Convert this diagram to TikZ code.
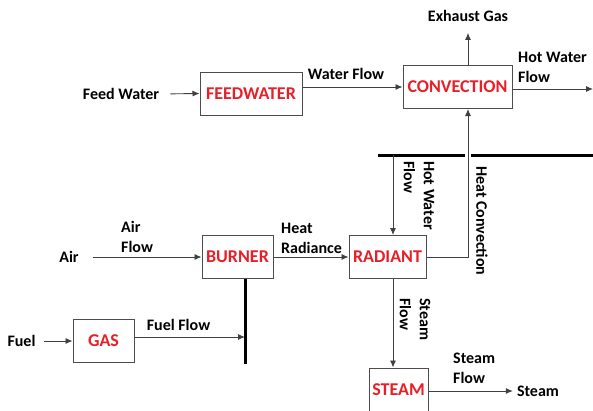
\documentclass[tikz,border=0pt]{standalone}
\usepackage{fontspec}
\setmainfont{Carlito}
\usetikzlibrary{positioning,arrows.meta}
\definecolor{unitred}{RGB}{232,30,40}
\tikzset{
  flowarrow/.style={-{Latex[length=7pt,width=6pt]}, line width=0.9pt, black!75},
  busline/.style={line width=3pt},
  unitbox/.style={draw=black!70, line width=1pt, fill=white, minimum height=43pt, inner sep=1pt, text=unitred, font=\fontsize{18}{21}\selectfont\bfseries},
  flowlabel/.style={inner sep=0pt, align=left, font=\fontsize{16}{20}\selectfont\bfseries}
}
\begin{document}
\begin{tikzpicture}[x=1pt, y=-1pt, >=Latex]
  \useasboundingbox (0,0) rectangle (593,410);
  % process units
  \node[unitbox, minimum width=102pt] (feedwater) at (251,93.5) {FEEDWATER};
  \node[unitbox, minimum width=109pt] (convection) at (457.5,87) {CONVECTION};
  \node[unitbox, minimum width=71pt] (burner) at (237.5,257) {BURNER};
  \node[unitbox, minimum width=77pt] (radiant) at (387.5,257) {RADIANT};
  \node[unitbox, minimum width=61pt] (gas) at (103.5,341) {GAS};
  \node[unitbox, minimum width=59pt] (steam) at (398.5,389.5) {STEAM};
  % inputs and outputs
  \node[flowlabel] (feedin) at (121,94) {Feed Water};
  \node[flowlabel] (exhaust) at (468,16) {Exhaust Gas};
  \node[flowlabel] (air) at (69,257) {Air};
  \node[flowlabel] (fuel) at (21.5,341) {Fuel};
  \node[flowlabel] (steamout) at (538,391) {Steam};
  \coordinate (hwout) at (593,89);
  % flow labels
  \node[flowlabel] (waterlbl) at (346,74) {Water Flow};
  \node[flowlabel, anchor=west] (hwlbl) at (518,67) {Hot Water\\Flow};
  \node[flowlabel, anchor=west] (airlbl) at (121,237) {Air\\Flow};
  \node[flowlabel, anchor=west] (heatlbl) at (281,238) {Heat\\Radiance};
  \node[flowlabel] (fuellbl) at (178.5,325) {Fuel Flow};
  \node[flowlabel, anchor=west] (steamlbl) at (453,368) {Steam\\Flow};
  \node[flowlabel, anchor=west, rotate=-90] (hwdownlbl) at (419,161) {Hot Water\\Flow};
  \node[flowlabel, anchor=west, rotate=-90] (convlbl) at (482,166) {Heat Convection};
  \node[flowlabel, anchor=west, rotate=-90] (steamdownlbl) at (415,298) {Steam\\Flow};
  % headers
  \coordinate (hwbusL) at (378,155);
  \coordinate (hwgapL) at (465,155);
  \coordinate (hwgapR) at (471,155);
  \coordinate (hwbusR) at (593,155);
  \coordinate (hwdrop) at (393,155);
  \coordinate (fuelbus) at (245,364);
  \draw[busline] (hwbusL) -- (hwgapL);
  \draw[busline] (hwgapR) -- (hwbusR);
  \draw[busline] (fuelbus |- burner.south) -- (fuelbus);
  % flows
  \draw[flowarrow, shorten <=11pt] (feedin.east) -- (feedwater.west);
  \draw[flowarrow] (feedwater.east |- convection.west) -- (convection.west);
  \draw[flowarrow, shorten >=11pt] ([xshift=10.5pt]convection.north) -- (exhaust.south);
  \draw[flowarrow] (convection.east |- hwout) -- (hwout);
  \draw[flowarrow, shorten <=14pt] (air.east) -- (burner.west);
  \draw[flowarrow] (burner.east) -- (radiant.west);
  \draw[flowarrow, shorten <=8pt] (fuel.east) -- (gas.west);
  \draw[flowarrow] ([yshift=4pt]gas.east) -- ([yshift=4pt]gas.east -| fuelbus);
  \draw[flowarrow] (hwdrop) -- (hwdrop |- radiant.north);
  \draw[flowarrow] (radiant.east) -| ([xshift=10.5pt]convection.south);
  \draw[flowarrow] ([xshift=5.5pt]radiant.south) -- ([xshift=5.5pt]radiant.south |- steam.north);
  \draw[flowarrow, shorten >=4pt] (steam.east |- steamout) -- (steamout.west);
\end{tikzpicture}
\end{document}
